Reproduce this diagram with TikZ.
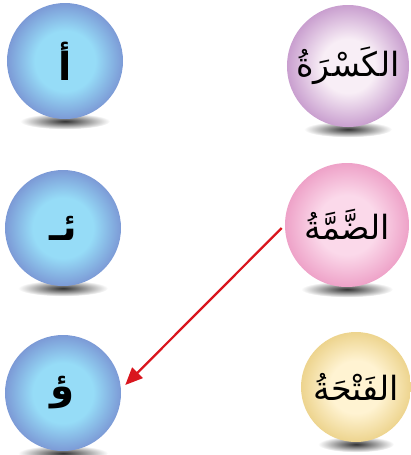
\documentclass[tikz,border=0pt]{standalone}
\usepackage{fontspec}
\newfontfamily\arabicfont[Script=Arabic]{DejaVu Sans}
\TeXXeTstate=1
\usetikzlibrary{arrows.meta, backgrounds}

\definecolor{blueIn}{HTML}{96DCF7}
\definecolor{blueOut}{HTML}{7C9AD6}
\definecolor{lilacIn}{HTML}{F8EEF6}
\definecolor{lilacOut}{HTML}{C99FCF}
\definecolor{pinkIn}{HTML}{FBD9EA}
\definecolor{pinkOut}{HTML}{EEA2C8}
\definecolor{sandIn}{HTML}{FFF3D2}
\definecolor{sandOut}{HTML}{EDD48E}
\definecolor{pointerRed}{HTML}{D9161E}

\pgfdeclareradialshading{blueball}{\pgfpoint{0bp}{0bp}}{color(0bp)=(blueIn); color(13bp)=(blueIn); color(25bp)=(blueOut); color(50bp)=(blueOut)}
\pgfdeclareradialshading{lilacball}{\pgfpoint{0bp}{0bp}}{color(0bp)=(lilacIn); color(11bp)=(lilacIn); color(25bp)=(lilacOut); color(50bp)=(lilacOut)}
\pgfdeclareradialshading{pinkball}{\pgfpoint{0bp}{0bp}}{color(0bp)=(pinkIn); color(12bp)=(pinkIn); color(25bp)=(pinkOut); color(50bp)=(pinkOut)}
\pgfdeclareradialshading{sandball}{\pgfpoint{0bp}{0bp}}{color(0bp)=(sandIn); color(12bp)=(sandIn); color(25bp)=(sandOut); color(50bp)=(sandOut)}

\begin{document}
\begin{tikzpicture}[
        x=0.75pt, y=0.75pt,
        ball/.style={circle, inner sep=0pt, minimum size=87pt},
        letterball/.style={ball, shading=blueball, font=\arabicfont\fontsize{29}{34}\selectfont\bfseries},
        wordball/.style={ball, font=\arabicfont\fontsize{25}{30}\selectfont},
        floorshade/.style={inner color=black!80, outer color=white},
        pointer/.style={-{Triangle[length=13pt, width=11pt]}, draw=pointerRed, fill=pointerRed, line width=1.7pt}
    ]
    \useasboundingbox (0,0) rectangle (411,-455);

    % Hamza letters
    \node[letterball] (hamzaA) at (65,-61) {\beginR أ\endR};
    \node[letterball] (hamzaY) at (63,-228) {\beginR ئـ\endR};
    \node[letterball] (hamzaW) at (63,-393) {\beginR ؤ\endR};

    % Vowel names
    \node[wordball, shading=lilacball, minimum size=91.5pt] (kasra) at (348,-66) {\beginR الكَسْرَةُ\endR};
    \node[wordball, shading=pinkball, minimum size=93pt] (damma) at (347,-225) {\beginR الضَّمَّةُ\endR};
    \node[wordball, shading=sandball, minimum size=82.5pt] (fatha) at (356,-387) {\beginR الفَتْحَةُ\endR};

    % Shadows
    \begin{scope}[on background layer]
        \foreach \b/\w in {hamzaA/45, hamzaY/45, hamzaW/45, kasra/44, damma/46, fatha/38}
            \shade[floorshade] ([shift={(0,-2)}]\b.south) ellipse [x radius=\w, y radius=8];
    \end{scope}

    % Arrow
    \draw[pointer] ([shift={(-3,-3)}]damma.west) -- ([shift={(4,8)}]hamzaW.east);

\end{tikzpicture}
\end{document}
